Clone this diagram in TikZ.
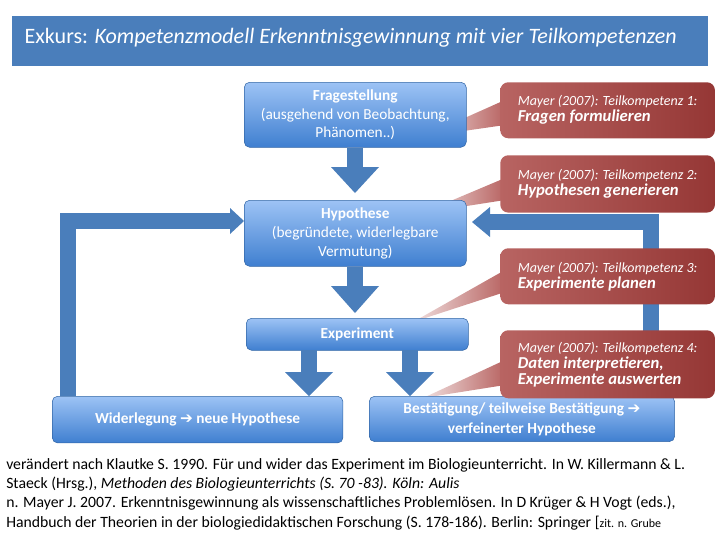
\documentclass[tikz,border=0pt]{standalone}
\usepackage{fontspec}
\setmainfont{Carlito}
\newfontfamily\symfont{DejaVu Sans}
\usetikzlibrary{positioning}
\definecolor{boxtop}{HTML}{9DC3F5}
\definecolor{boxbot}{HTML}{3F7FD0}
\definecolor{flowblue}{HTML}{4A7EBB}
\definecolor{calloutred}{HTML}{953735}
\definecolor{calloutlight}{HTML}{B86462}
\newcommand{\rarr}{{\symfont\bfseries\char"2794}}
\tikzset{
  stepbox/.style={draw=boxbot!80!black, rounded corners=4pt, top color=boxtop, bottom color=boxbot, text=white, align=center},
  callout/.style={rounded corners=6pt, left color=calloutlight, right color=calloutred, text=white, align=left, anchor=north west, inner sep=3pt},
  flowarrow/.style={flowblue, line width=12pt},
  flowtip/.style={fill=flowblue}
}
\begin{document}
\begin{tikzpicture}[x=0.75pt, y=-0.75pt]
            \useasboundingbox (0,0) rectangle (720,540);
            % title bar
            \fill[flowblue] (12,16) rectangle (708,66);
            \node[text=white, anchor=west, font=\fontsize{16.5}{19}\selectfont] (title) at (20,38) {Exkurs: \textit{Kompetenzmodell Erkenntnisgewinnung mit vier Teilkompetenzen}};
            
            % pointers behind boxes
            \coordinate (p1) at (422,137);
            \coordinate (p2) at (422,213);
            \coordinate (p3) at (413,322);
            \coordinate (p4) at (423,398);
            \shade[left color=white!80!calloutlight, right color=calloutlight] (p1) -- (505,100) -- (505,125) -- cycle;
            \shade[left color=white!80!calloutlight, right color=calloutlight] (p2) -- (505,178) -- (505,200) -- cycle;
            \shade[left color=white!80!calloutlight, right color=calloutlight] (p3) -- (505,270) -- (505,292) -- cycle;
            \shade[left color=white!80!calloutlight, right color=calloutlight] (p4) -- (505,360) -- (505,385) -- cycle;
            
            % flow boxes
            \node[stepbox, minimum width=166.5pt, minimum height=48.75pt, anchor=north west, font=\fontsize{11.5}{14}\selectfont] (frage) at (244,82) {\textbf{Fragestellung}\\(ausgehend von Beobachtung,\\Phänomen..)};
            \node[stepbox, minimum width=166.5pt, minimum height=49.5pt, anchor=north west, font=\fontsize{11.5}{14}\selectfont] (hypo) at (244,200) {\textbf{Hypothese}\\(begründete, widerlegbare\\Vermutung)};
            \node[stepbox, minimum width=166.5pt, minimum height=24pt, anchor=north west, font=\bfseries\fontsize{11.5}{14}\selectfont] (exp) at (246,318) {Experiment};
            \node[stepbox, minimum width=218pt, minimum height=35pt, anchor=north west, font=\bfseries\fontsize{11.5}{14}\selectfont] (wider) at (52,396) {Widerlegung \rarr\ neue Hypothese};
            \node[stepbox, minimum width=229pt, minimum height=34pt, anchor=north west, font=\bfseries\fontsize{11.5}{15}\selectfont] (best) at (369,396) {Bestätigung/ teilweise Bestätigung \rarr\\verfeinerter Hypothese};
            
            % flow arrows
            \draw[flowarrow] (frage.south) -- ++(0,20);
            \fill[flowtip] (331,167) -- (379,167) -- (355,193) -- cycle;
            \draw[flowarrow] (hypo.south) -- ++(0,20);
            \fill[flowtip] (331,286) -- (379,286) -- (355,313) -- cycle;
            \draw[flowarrow] (309,350) -- (309,372);
            \fill[flowtip] (285,372) -- (333,372) -- (309,396) -- cycle;
            \draw[flowarrow] (410,350) -- (410,372);
            \fill[flowtip] (386,372) -- (434,372) -- (410,396) -- cycle;
            
            % loops back to the hypothesis
            \coordinate (lcorner) at (68,221);
            \coordinate (rcorner) at (651,222);
            \draw[flowarrow] (68,396) -- (lcorner) -- (232,221);
            \fill[flowtip] (230,208) -- (244,221) -- (230,234) -- cycle;
            \draw[flowarrow] (651,396) -- (rcorner) -- (488,222);
            \fill[flowtip] (490,207) -- (472,222) -- (490,237) -- cycle;
            
            % callouts
            \node[callout, minimum width=161pt, minimum height=42pt] (k1) at (500,82) {\fontsize{10.5}{15}\selectfont\textit{Mayer (2007): Teilkompetenz 1:}\\\fontsize{12.5}{15}\selectfont\textbf{\textit{Fragen formulieren}}};
            \node[callout, minimum width=161pt, minimum height=43pt] (k2) at (500,155) {\fontsize{10.5}{15}\selectfont\textit{Mayer (2007): Teilkompetenz 2:}\\\fontsize{12.5}{15}\selectfont\textbf{\textit{Hypothesen generieren}}};
            \node[callout, minimum width=161pt, minimum height=42pt] (k3) at (500,248) {\fontsize{10.5}{15}\selectfont\textit{Mayer (2007): Teilkompetenz 3:}\\\fontsize{12.5}{15}\selectfont\textbf{\textit{Experimente planen}}};
            \node[callout, minimum width=161pt, minimum height=51pt] (k4) at (500,330) {\fontsize{10.5}{14}\selectfont\textit{Mayer (2007): Teilkompetenz 4:}\\\fontsize{12.5}{16}\selectfont\textbf{\textit{Daten interpretieren,}}\\\fontsize{12.5}{16}\selectfont\textbf{\textit{Experimente auswerten}}};
            
            % sources
            \node[anchor=north west, align=left, inner sep=0pt, font=\fontsize{11.8}{14.5}\selectfont] (src) at (6,458) {verändert nach Klautke S. 1990. Für und wider das Experiment im Biologieunterricht. In W. Killermann \& L.\\Staeck (Hrsg.), \textit{Methoden des Biologieunterrichts (S. 70 -83). Köln: Aulis}\\n. Mayer J. 2007. Erkenntnisgewinnung als wissenschaftliches Problemlösen. In D Krüger \& H Vogt (eds.),\\Handbuch der Theorien in der biologiedidaktischen Forschung (S. 178-186). Berlin: Springer [{\fontsize{9}{10}\selectfont zit. n. Grube}};
        \end{tikzpicture}
\end{document}
